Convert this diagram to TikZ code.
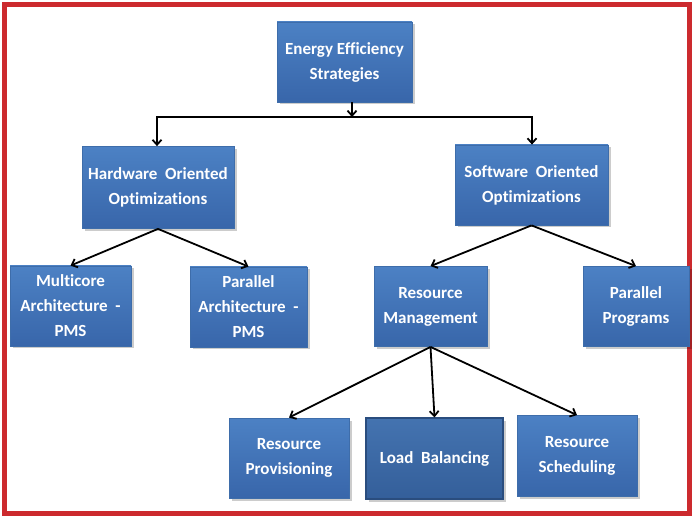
\documentclass[tikz,border=0pt]{standalone}
\usepackage{fontspec}
\setmainfont[Ligatures={NoCommon}]{Carlito}
\usetikzlibrary{arrows.meta,shadows}
\definecolor{boxtop}{HTML}{4C81C4}
\definecolor{boxbot}{HTML}{3866AA}
\definecolor{boxline}{HTML}{3E6DAA}
\definecolor{lbtop}{HTML}{4473B0}
\definecolor{lbbot}{HTML}{345F9A}
\definecolor{lbline}{HTML}{2A4D7E}
\definecolor{frame}{HTML}{CC2A2E}
\tikzset{
  bluebox/.style={rectangle, draw=boxline, line width=0.8pt, top color=boxtop, bottom color=boxbot,
    text=white, font=\bfseries\fontsize{17}{25}\selectfont, align=center, inner sep=2pt,
    drop shadow={shadow xshift=2.5pt, shadow yshift=-2.5pt, fill=black, opacity=0.2}},
  darkbox/.style={bluebox, draw=lbline, line width=1.2pt, top color=lbtop, bottom color=lbbot},
  arr/.style={draw=black, line width=1.8pt, -{Straight Barb[length=5pt,width=9pt,line width=1.8pt]}},
  plain/.style={draw=black, line width=1.8pt}
}
\begin{document}
\begin{tikzpicture}[x=1pt,y=-1pt]
\useasboundingbox (0,0) rectangle (693,518);
\fill[white] (0,0) rectangle (693,518);
\draw[frame, line width=4.5pt] (4.5,4.5) rectangle (689.5,513.5);

\node[bluebox, minimum width=135pt, minimum height=80pt] (top) at (344.5,62) {Energy Efficiency\\Strategies};
\node[bluebox, minimum width=152pt, minimum height=82pt] (hw) at (158,187.5) {Hardware~ Oriented\\Optimizations};
\node[bluebox, minimum width=153pt, minimum height=80pt] (sw) at (531.5,185) {Software~ Oriented\\Optimizations};
\node[bluebox, minimum width=121pt, minimum height=80pt] (mc) at (70.5,306) {Multicore\\Architecture~ -\\PMS};
\node[bluebox, minimum width=117pt, minimum height=80pt] (pa) at (248.5,307) {Parallel\\Architecture~ -\\PMS};
\node[bluebox, minimum width=113pt, minimum height=80pt] (rm) at (430.5,306.5) {Resource\\Management};
\node[bluebox, minimum width=106pt, minimum height=80pt] (pp) at (636,306.5) {Parallel\\Programs};
\node[bluebox, minimum width=120pt, minimum height=80pt] (rp) at (289,458) {Resource\\Provisioning};
\node[darkbox, minimum width=137pt, minimum height=81pt] (lb) at (434.5,458.5) {Load~ Balancing};
\node[bluebox, minimum width=120pt, minimum height=81pt] (rs) at (577,456) {Resource\\Scheduling};

\coordinate (j) at (352,117);
\coordinate (jl) at (157,117);
\coordinate (jr) at (532,117);
\draw[arr] (top.south -| j) -- (j);
\draw[plain, line cap=rect] (jl) -- (jr);
\draw[arr] (jl) -- (jl |- hw.north);
\draw[arr] (jr) -- (jr |- sw.north);

\draw[arr] (hw.south) -- (mc.north);
\draw[arr] (hw.south) -- (pa.north);
\draw[arr] (sw.south) -- (rm.north);
\draw[arr] (sw.south) -- (pp.north);
\draw[arr] (rm.south) -- (rp.north);
\draw[arr] (rm.south) -- (lb.north);
\draw[arr] (rm.south) -- (rs.north);
\end{tikzpicture}
\end{document}
